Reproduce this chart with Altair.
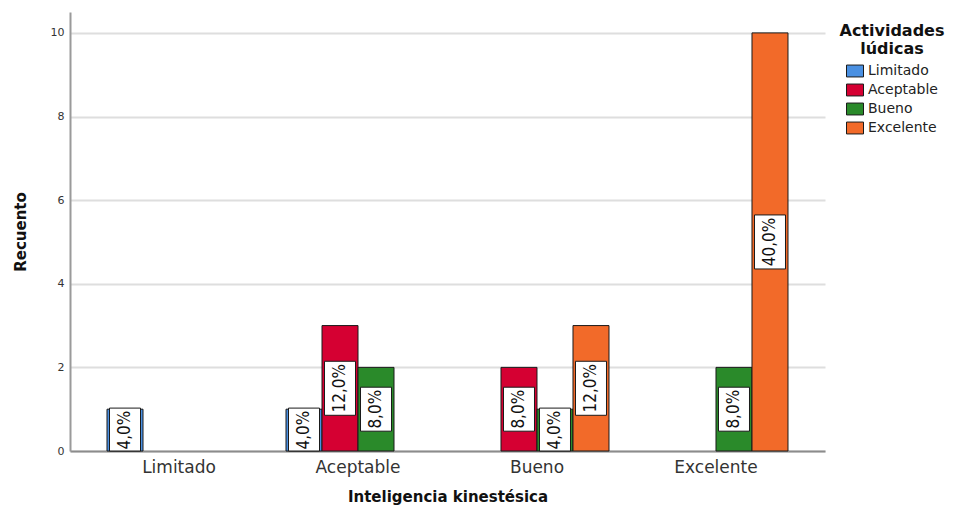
import altair as alt
import pandas as pd

categories = ["Limitado", "Aceptable", "Bueno", "Excelente"]
series = ["Limitado", "Aceptable", "Bueno", "Excelente"]
# counts[i][j]: x category i, series j
counts = [
    [1, 0, 0, 0],
    [1, 3, 2, 0],
    [0, 2, 1, 3],
    [0, 0, 2, 10],
]
colors = ["#4a90e2", "#d50032", "#2a8a2a", "#f26a29"]
y_ticks = [0, 2, 4, 6, 8, 10]

total = sum(sum(r) for r in counts)
rows = []
for i, c in enumerate(categories):
    for j, s in enumerate(series):
        v = counts[i][j]
        if v > 0:
            rows.append({
                "cat": c,
                "ser": s,
                "count": v,
                "label": f"{v / total * 100:.1f}%".replace(".", ","),
            })
df = pd.DataFrame(rows)

x_enc = alt.X("cat:N", sort=categories,
              scale=alt.Scale(paddingInner=0, paddingOuter=0.109),
              axis=alt.Axis(title="Inteligencia kinestésica", labelAngle=0,
                            ticks=False, labelFontSize=17, labelFont="DejaVu Sans",
                            labelColor="#333333", labelPadding=8,
                            titleFont="DejaVu Sans", titleFontSize=15,
                            titleFontWeight="bold", titleColor="#111111",
                            titlePadding=14, domainColor="#8c8c8c",
                            domainWidth=2, grid=False))
xo_enc = alt.XOffset("ser:N", sort=series,
                     scale=alt.Scale(paddingInner=0, paddingOuter=0.486))

base = alt.Chart(df)

bars = base.mark_bar(stroke="#1a1a1a", strokeWidth=1).encode(
    x=x_enc,
    xOffset=xo_enc,
    y=alt.Y("count:Q",
            scale=alt.Scale(domain=[0, 10.5], nice=False),
            axis=alt.Axis(title="Recuento", values=y_ticks, ticks=False,
                          labelFontSize=11, labelFont="DejaVu Sans",
                          labelColor="#333333", labelPadding=6,
                          titleFont="DejaVu Sans", titleFontSize=15,
                          titleFontWeight="bold", titleColor="#111111",
                          titlePadding=22, domainColor="#9a9a9a",
                          domainWidth=2, gridColor="#dedede", gridWidth=2)),
    color=alt.Color("ser:N", sort=series,
                    scale=alt.Scale(domain=series, range=colors),
                    legend=alt.Legend(title=["Actividades", "lúdicas"],
                                      orient="none", legendX=770, legendY=11,
                                      titleFont="DejaVu Sans", titleFontSize=16,
                                      titleFontWeight="bold", titleColor="#111111",
                                      titleAlign="center", titleAnchor="middle",
                                      titleLineHeight=18, titlePadding=5,
                                      labelFont="DejaVu Sans", labelFontSize=14,
                                      labelColor="#222222", labelOffset=4,
                                      symbolType="M-1,-0.7H1V0.7H-1Z",
                                      symbolSize=289, symbolStrokeColor="#1a1a1a",
                                      symbolStrokeWidth=1, symbolOpacity=1,
                                      rowPadding=2)),
)

boxes = base.transform_calculate(
    hh="length(datum.label) > 4 ? 0.646 : 0.526",
).transform_calculate(
    y0="max(0, datum.count / 2 - datum.hh)",
    y1="datum.count / 2 + datum.hh",
).mark_bar(fill="white", stroke="#1a1a1a", strokeWidth=1, width=31).encode(
    x=alt.X("cat:N", sort=categories),
    xOffset=alt.XOffset("ser:N", sort=series),
    y="y0:Q",
    y2="y1:Q",
)

texts = base.transform_calculate(
    mid="datum.count / 2"
).mark_text(angle=270, font="DejaVu Sans Condensed", fontSize=17,
            color="#111111", baseline="middle", align="center").encode(
    x=alt.X("cat:N", sort=categories),
    xOffset=alt.XOffset("ser:N", sort=series),
    y="mid:Q",
    text="label:N",
)

chart = alt.layer(bars, boxes, texts).properties(
    width=755, height=439,
    autosize=alt.AutoSizeParams(type="none"),
    padding={"left": 62, "top": 4, "right": 122, "bottom": 54},
    background="white",
).configure_view(stroke=None)

chart.save("out.html", embed_options={"renderer": "svg", "actions": False})
